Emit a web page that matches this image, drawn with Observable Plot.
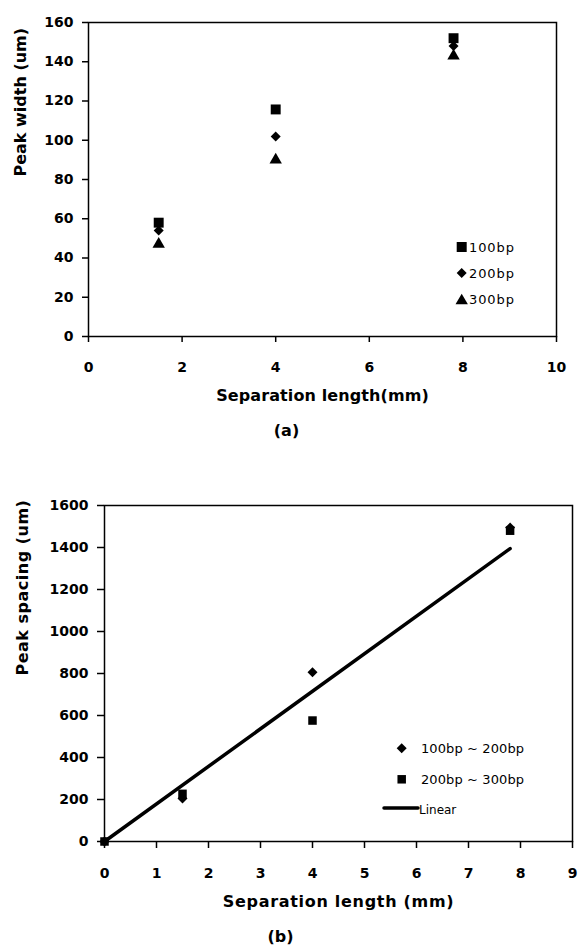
<!DOCTYPE html>
<html><head><meta charset="utf-8">
<script src="https://cdn.jsdelivr.net/npm/d3@7"></script>
<script src="https://cdn.jsdelivr.net/npm/@observablehq/plot@0.6"></script>
<style>
body{margin:0;background:#fff;}
#wrap{position:relative;width:578px;height:951px;overflow:hidden;background:#fff;color:#000;}
#wrap svg{position:absolute;left:0;overflow:visible;background:transparent;}
</style></head><body><div id="wrap"></div>
<script>
// ---------- Panel (a): peak width ----------
const lengthsA = [1.5, 4, 7.8];
const width100 = [58, 115.7, 152];
const width200 = [54, 101.9, 148];
const width300 = [47, 90, 143];
const seriesA = ["100bp", "200bp", "300bp"];
const ticksAX = [0, 2, 4, 6, 8, 10];
const ticksAY = [0, 20, 40, 60, 80, 100, 120, 140, 160];
const titleAX = "Separation length(mm)";
const titleAY = "Peak width (um)";
const panelA = "(a)";

// ---------- Panel (b): peak spacing ----------
const lengthsB = [0, 1.5, 4, 7.8];
const spacing12 = [0, 205, 806, 1495];
const spacing23 = [0, 227, 576, 1480];
const linearX = [0, 7.8];
const linearY = [0, 1395];
const seriesB = ["100bp ~ 200bp", "200bp ~ 300bp", "Linear"];
const ticksBX = [0, 1, 2, 3, 4, 5, 6, 7, 8, 9];
const ticksBY = [0, 200, 400, 600, 800, 1000, 1200, 1400, 1600];
const titleBX = "Separation length (mm)";
const titleBY = "Peak spacing (um)";
const panelB = "(b)";

const FONT = "DejaVu Sans";
const wrap = document.getElementById("wrap");

const rowsA = lengthsA.flatMap((x, i) => [
  {x, y: width100[i], s: seriesA[0]},
  {x, y: width200[i], s: seriesA[1]},
  {x, y: width300[i], s: seriesA[2]}
]);
const rowsB = lengthsB.flatMap((x, i) => [
  {x, y: spacing12[i], s: seriesB[0]},
  {x, y: spacing23[i], s: seriesB[1]}
]);
const lineB = linearX.map((x, i) => ({x, y: linearY[i]}));

const titleStyle = {fontSize: 16, fontWeight: "bold", fontFamily: FONT, fill: "black"};
const axisStyle = {fontSize: 14, fontWeight: "bold", fontFamily: FONT, strokeWidth: 1.5, label: null, tickFormat: d3.format("d")};

// ---- Plot A ----
const plotA = Plot.plot({
  width: 578, height: 455,
  marginTop: 22, marginLeft: 88, marginRight: 22, marginBottom: 119,
  style: {fontFamily: FONT, color: "black", background: "transparent"},
  x: {domain: [0, 10]},
  y: {domain: [0, 160]},
  marks: [
    Plot.frame({stroke: "black", strokeWidth: 1.5}),
    Plot.axisX({...axisStyle, ticks: ticksAX, tickSize: 6, tickPadding: 20}),
    Plot.axisY({...axisStyle, ticks: ticksAY, tickSize: 6, tickPadding: 9}),
    Plot.dot(rowsA.filter(d => d.s === seriesA[1]), {x: "x", y: "y", symbol: "diamond2", r: 4.5, fill: "black", stroke: "none"}),
    Plot.dot(rowsA.filter(d => d.s === seriesA[0]), {x: "x", y: "y", symbol: "square", r: 5.6, fill: "black", stroke: "none"}),
    Plot.dot(rowsA.filter(d => d.s === seriesA[2]), {x: "x", y: "y", symbol: "triangle", r: 4.6, fill: "black", stroke: "none"}),
    Plot.text([titleAY], {...titleStyle, frameAnchor: "left", dx: -68, dy: -3, rotate: -90}),
    Plot.text([titleAX], {...titleStyle, frameAnchor: "bottom", dy: 64}),
    Plot.text([panelA], {...titleStyle, frameAnchor: "bottom", dx: -36, dy: 99})
  ]
});
plotA.style.top = "0px";
wrap.appendChild(plotA);

// ---- Plot B ----
const TOPB = 460;
const plotB = Plot.plot({
  width: 578, height: 491,
  marginTop: 45, marginLeft: 104, marginRight: 6, marginBottom: 110,
  style: {fontFamily: FONT, color: "black", background: "transparent"},
  x: {domain: [0, 9]},
  y: {domain: [0, 1600]},
  marks: [
    Plot.frame({stroke: "black", strokeWidth: 1.5}),
    Plot.axisX({...axisStyle, ticks: ticksBX, tickSize: 7, tickPadding: 20}),
    Plot.axisY({...axisStyle, ticks: ticksBY, tickSize: 7, tickPadding: 9}),
    Plot.line(lineB, {x: "x", y: "y", stroke: "black", strokeWidth: 3.5}),
    Plot.dot(rowsB.filter(d => d.s === seriesB[1]), {x: "x", y: "y", symbol: "square", r: 4.8, fill: "black", stroke: "none"}),
    Plot.dot(rowsB.filter(d => d.s === seriesB[0]), {x: "x", y: "y", symbol: "diamond2", r: 4.5, fill: "black", stroke: "none"}),
    Plot.text([titleBY], {...titleStyle, frameAnchor: "left", dx: -82, dy: 2, rotate: -90}),
    Plot.text([titleBX], {...titleStyle, frameAnchor: "bottom", dy: 65}),
    Plot.text([panelB], {...titleStyle, frameAnchor: "bottom", dx: -58, dy: 100})
  ]
});
plotB.style.top = TOPB + "px";
wrap.appendChild(plotB);

// letter spacing on titles to mimic the stretched original
d3.select(plotA).selectAll("text").filter(function(){ return this.textContent === titleAX; }).style("letter-spacing", "0.1px");
d3.select(plotB).selectAll("text").filter(function(){ return this.textContent === titleBX; }).style("letter-spacing", "0.7px");
d3.select(plotB).selectAll("text").filter(function(){ return this.textContent === titleBY; }).style("letter-spacing", "0.5px");

// ---- Legends ----
function legend(svg, offY, items, textX, fontSize) {
  const g = d3.select(svg).append("g").attr("font-family", FONT).attr("font-size", fontSize)
    .attr("font-weight", "normal").attr("text-anchor", "start").attr("fill", "black");
  for (const it of items) {
    const y = it.y - offY;
    if (it.kind === "line") {
      g.append("line").attr("x1", it.x1).attr("x2", it.x2).attr("y1", y).attr("y2", y)
        .attr("stroke", "black").attr("stroke-width", 3.5).attr("stroke-linecap", "round");
    } else {
      g.append("path").attr("d", d3.symbol(it.kind, it.size)())
        .attr("transform", `translate(${it.x},${y + (it.dy || 0)})`).attr("fill", "black");
    }
    g.append("text").attr("x", it.tx ?? textX).attr("y", (it.ty ?? it.y) - offY).attr("dy", "0.36em")
      .attr("text-anchor", "start")
      .style("letter-spacing", it.ls ?? "0.9px").attr("font-size", it.fs ?? fontSize).text(it.label);
  }
}
legend(plotA, 0, [
  {kind: d3.symbolSquare, size: 100, x: 461.7, y: 247, label: seriesA[0]},
  {kind: d3.symbolDiamond2, size: 64, x: 461.7, y: 273, label: seriesA[1]},
  {kind: d3.symbolTriangle, size: 66, x: 461.7, y: 299, dy: 1.8, label: seriesA[2]}
], 469, 13);
legend(plotB, TOPB, [
  {kind: d3.symbolDiamond2, size: 64, x: 401.7, y: 748.3, label: seriesB[0], ls: "0.1px"},
  {kind: d3.symbolSquare, size: 72, x: 401.7, y: 779.3, label: seriesB[1], ls: "0.1px"},
  {kind: "line", x1: 384, x2: 418, y: 808, tx: 419, ty: 810, label: seriesB[2], fs: 12, ls: "0px"}
], 421, 13);
</script></body></html>
